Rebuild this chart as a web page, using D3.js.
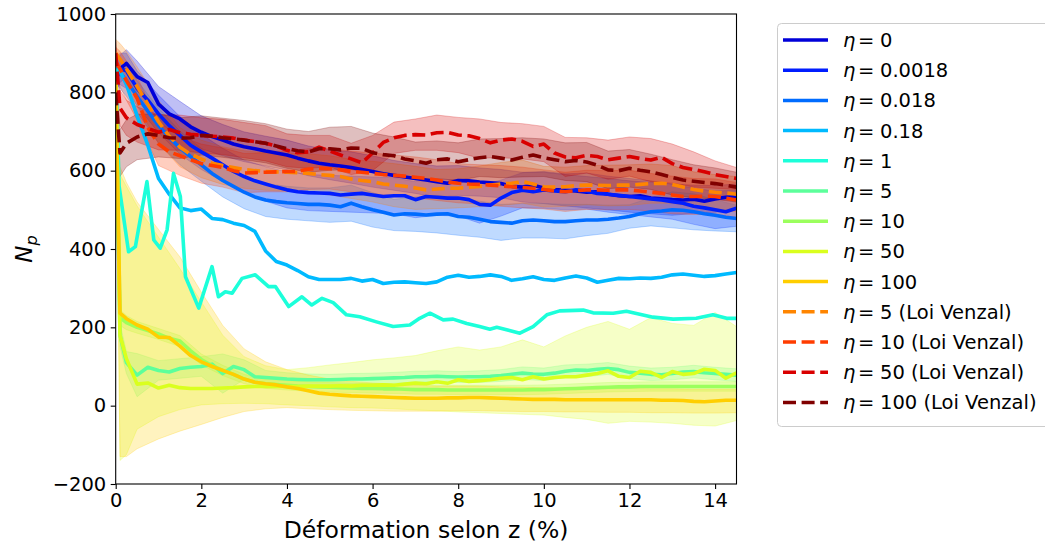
<!DOCTYPE html>
<html><head><meta charset="utf-8">
<script src="https://cdn.jsdelivr.net/npm/d3@7"></script>
<style>body{margin:0;background:#fff}svg{display:block;font-family:"DejaVu Sans",sans-serif}</style>
</head><body>
<script>
// strain grid (%)
const X = [0,0.1,0.25,0.5,0.75,1,1.25,1.5,1.75,2,2.25,2.5,2.75,3,3.25,3.5,3.75,4,4.25,4.5,4.75,5,5.25,5.5,5.75,6,6.25,6.5,6.75,7,7.25,7.5,7.75,8,8.25,8.5,8.75,9,9.25,9.5,9.75,10,10.25,10.5,10.75,11,11.25,11.5,11.75,12,12.25,12.5,12.75,13,13.25,13.5,13.75,14,14.25,14.5];
const X1 = [0,0.08,0.3,0.46,0.73,0.89,1.04,1.2,1.35,1.51,1.63,1.94,2.25,2.4,2.56,2.72,2.95,3.26,3.57,3.73,4.04,4.35,4.58,4.82,5.08,5.39,5.7,6.09,6.48,6.87,7.1,7.34,7.65,7.88,8.2,8.5,8.74,8.9,9.44,9.75,10.07,10.37,10.92,11.15,11.62,11.93,12.55,13.02,13.56,13.95,14.27,14.5];
const BX = [0,0.1,0.25,0.5,1,1.5,2,2.5,3,3.5,4,4.5,5,5.5,6,6.5,7,7.5,8,8.5,9,9.5,10,10.5,11,11.5,12,12.5,13,13.5,14,14.5];

const e0 = [830,860,874,840,825,770,745,732,712,698,687,678,668,661,656,650,645,640,632,625,619,615,612,608,603,598,592,588,584,580,576,572,568,575,574,571,569,567,560,558,563,556,552,550,548,545,546,540,536,534,536,530,528,526,525,527,522,528,532,534];
const e1 = [850,860,855,810,780,745,715,690,665,648,632,615,598,585,574,566,558,551,546,544,543,542,538,540,542,538,534,536,536,526,534,532,530,530,526,514,512,530,544,550,546,551,548,546,551,548,542,540,537,534,531,528,525,521,517,509,505,500,495,504];
const e2 = [860,850,830,790,752,715,685,658,636,615,593,575,560,545,533,525,521,518,516,514,514,512,508,517,508,500,494,487,490,489,487,489,490,483,481,476,470,468,466,472,474,472,470,470,472,474,474,476,479,483,490,495,497,500,499,495,490,486,481,478];
const e3 = [860,855,820,740,665,580,540,505,498,502,478,475,466,460,445,395,368,359,345,329,322,322,322,325,318,322,312,315,316,314,312,316,328,333,328,330,334,330,320,324,329,322,320,326,331,326,315,320,325,324,326,325,328,334,336,333,330,332,336,340];
const e4 = [860,560,393,406,572,423,402,449,593,534,329,249,355,278,291,287,325,334,304,304,253,278,257,274,263,232,227,214,202,206,223,236,219,221,210,202,195,200,185,202,232,242,244,237,236,241,226,221,223,232,223,223];
const e5 = [850,180,110,78,98,90,86,95,98,100,106,82,100,92,74,72,70,68,67,66,66,66,67,68,68,69,70,71,72,74,74,75,74,73,74,74,75,77,80,83,81,80,83,88,91,90,93,95,92,85,83,80,79,82,86,87,84,82,80,78];
const e6 = [850,225,212,200,192,183,172,165,140,118,102,90,80,68,60,56,54,52,50,49,48,47,46,45,44,44,43,43,42,41,41,41,40,40,40,40,40,40,40,40,41,41,42,43,44,45,46,47,48,48,49,49,49,49,49,49,49,49,49,49];
const e7 = [850,180,120,55,58,45,52,46,44,44,44,45,46,48,49,49,49,49,49,50,50,50,51,50,52,52,53,52,55,58,56,61,57,66,62,64,66,70,72,66,74,68,72,74,74,78,82,89,75,72,88,85,72,87,80,82,93,90,70,84];
const e8 = [850,236,222,206,195,175,174,152,128,112,100,90,80,68,60,56,53,48,44,38,32,29,27,25,24,23,22,21,20,19,19,19,20,20,21,21,20,19,18,17,16,16,16,15,15,15,15,15,15,15,15,15,14,14,13,11,10,12,14,14];
const v5 = [900,885,860,815,770,725,688,660,642,630,619,613,608,603,600,598,597,596,595,593,590,588,585,579,575,572,566,563,560,556,551,553,555,555,558,560,563,566,568,572,566,559,558,559,562,563,563,562,563,563,565,567,568,565,558,552,548,545,543,540];
const v10 = [880,860,830,785,710,668,648,638,628,618,613,608,600,594,595,596,597,598,598,604,606,605,602,598,596,593,590,588,586,583,580,576,571,568,566,565,563,561,559,557,555,552,548,546,549,551,551,550,551,551,548,545,542,538,534,534,535,534,530,525];
const v50 = [900,760,735,718,708,698,705,697,693,690,688,686,683,678,674,670,663,652,646,648,660,650,640,630,620,645,672,684,690,692,691,697,698,691,689,682,671,678,681,675,662,668,645,635,633,639,636,628,632,636,631,627,634,618,608,603,597,590,585,580];
const v100 = [800,645,670,686,694,690,684,683,684,690,688,684,681,678,674,670,663,656,651,648,656,656,653,658,657,646,641,638,630,625,619,628,630,623,628,633,636,632,627,634,640,633,628,623,626,622,614,602,600,606,601,597,590,583,576,573,570,567,563,558];

// spread of the shaded bands (on BX)
const sdE0 = [30,35,35,40,45,45,42,40,38,38,38,38,38,40,40,38,38,40,38,36,36,38,40,40,40,40,40,40,40,36,34,32];
const sdE1 = [35,40,45,45,48,48,45,42,42,44,46,46,46,46,46,46,46,46,46,48,46,45,47,46,46,46,46,46,45,46,48,46];
const sdE2 = [35,40,40,40,45,43,42,42,42,42,42,42,44,46,44,40,44,48,48,46,46,44,44,44,40,36,30,36,46,46,40,34];
const sdE5 = [15,30,28,55,25,25,25,50,25,18,16,15,14,14,14,14,14,14,14,15,15,16,16,16,16,15,16,16,16,16,16,16];
const sdE6 = [15,20,18,15,14,14,14,13,12,12,12,12,12,12,12,12,12,12,12,12,12,12,12,12,12,12,12,12,12,12,12,12];
const sdV5 = [35,40,45,50,55,50,48,48,48,48,48,50,50,50,52,55,55,50,50,52,55,55,52,50,50,52,52,50,48,45,45,45];
const sdV10 = [35,45,50,55,55,50,50,50,50,50,52,52,52,52,52,52,52,52,50,50,52,52,50,50,50,50,50,48,48,46,45,45];
const sdV50 = [30,45,45,45,45,45,45,45,45,45,42,42,40,40,45,40,40,45,45,50,45,45,45,50,45,50,50,55,50,45,35,28];
const sdV100 = [40,60,60,58,55,52,50,50,50,50,50,52,55,55,50,48,48,48,48,48,50,50,48,48,50,48,48,45,45,42,40,38];
const hiE7 = [880,590,560,510,430,350,265,180,125,102,92,97,104,110,117,122,128,140,150,142,150,168,150,178,200,215,195,225,210,205,238,202];
const loE7 = [820,-140,-125,-60,-28,-10,2,5,6,5,2,0,-3,-5,-6,-8,-11,-13,-16,-18,-20,-22,-24,-30,-35,-45,-40,-42,-45,-50,-52,-38];
const hiE8 = [880,610,570,520,450,380,290,205,145,112,92,78,68,62,58,55,52,50,50,50,48,47,46,45,45,44,44,43,43,42,42,42];
const loE8 = [820,-130,-130,-110,-85,-65,-48,-30,-15,-8,-5,-8,-10,-12,-13,-14,-14,-14,-13,-13,-14,-15,-15,-16,-16,-17,-17,-18,-18,-19,-19,-18];

const labels = ["0","0.0018","0.018","0.18","1","5","10","50","100","5 (Loi Venzal)","10 (Loi Venzal)","50 (Loi Venzal)","100 (Loi Venzal)"];
const colors = ["rgb(0,0,217)","rgb(0,29,255)","rgb(0,108,255)","rgb(0,186,255)","rgb(28,255,218)","rgb(92,255,155)","rgb(155,255,93)","rgb(218,255,30)","rgb(255,206,0)","rgb(255,133,0)","rgb(255,60,0)","rgb(217,0,0)","rgb(128,0,0)"];
const xTicks = [0,2,4,6,8,10,12,14];
const yTicks = [-200,0,200,400,600,800,1000];

const series = [
  {x:X, y:e0, sd:sdE0}, {x:X, y:e1, sd:sdE1}, {x:X, y:e2, sd:sdE2},
  {x:X, y:e3}, {x:X1, y:e4},
  {x:X, y:e5, sd:sdE5}, {x:X, y:e6, sd:sdE6},
  {x:X, y:e7, lo:loE7, hi:hiE7}, {x:X, y:e8, lo:loE8, hi:hiE8},
  {x:X, y:v5, sd:sdV5, dash:true}, {x:X, y:v10, sd:sdV10, dash:true},
  {x:X, y:v50, sd:sdV50, dash:true}, {x:X, y:v100, sd:sdV100, dash:true}
];

const W = 1045, H = 549;
const L = 115.7, R = 736.5, T = 14, B = 484;
const x = d3.scaleLinear().domain([0,14.5]).range([L,R]);
const y = d3.scaleLinear().domain([-200,1000]).range([B,T]);

const svg = d3.select("body").append("svg").attr("width",W).attr("height",H);
svg.append("defs").append("clipPath").attr("id","clip")
  .append("rect").attr("x",L).attr("y",T).attr("width",R-L).attr("height",B-T);
const plot = svg.append("g").attr("clip-path","url(#clip)");
const gBands = plot.append("g");
const gLines = plot.append("g");

const area = d3.area().x(d=>x(d[0])).y0(d=>y(d[1])).y1(d=>y(d[2]));
const line = d3.line().x(d=>x(d[0])).y(d=>y(d[1]));

series.forEach((s,i)=>{
  const c = colors[i];
  let band = null;
  if (s.sd) {
    band = BX.map((bx,k)=>{ const v = s.y[X.indexOf(bx)]; return [bx, v - s.sd[k], v + s.sd[k]]; });
  } else if (s.lo) {
    band = BX.map((bx,k)=>[bx, s.lo[k], s.hi[k]]);
  }
  if (band) {
    gBands.append("path").attr("d", area(band))
      .attr("fill", c).attr("fill-opacity", 0.25)
      .attr("stroke", c).attr("stroke-opacity", 0.25).attr("stroke-width", 1);
  }
  const pts = s.x.map((xv,k)=>[xv, s.y[k]]);
  gLines.append("path").attr("d", line(pts))
    .attr("fill","none").attr("stroke", c).attr("stroke-width", 3.6)
    .attr("stroke-linejoin","round")
    .attr("stroke-dasharray", s.dash ? "13,5.6" : null);
});

// frame
svg.append("rect").attr("x",L).attr("y",T).attr("width",R-L).attr("height",B-T)
  .attr("fill","none").attr("stroke","#000").attr("stroke-width",1.1);

const fmt = d => d < 0 ? "\u2212" + Math.abs(d) : String(d);
const ax = svg.append("g").attr("transform",`translate(0,${B})`)
  .call(d3.axisBottom(x).tickValues(xTicks).tickFormat(fmt).tickSize(5).tickPadding(4.5));
const ay = svg.append("g").attr("transform",`translate(${L},0)`)
  .call(d3.axisLeft(y).tickValues(yTicks).tickFormat(fmt).tickSize(5).tickPadding(4.5));
[ax,ay].forEach(g=>{
  g.select(".domain").remove();
  g.selectAll(".tick line").attr("stroke","#000").attr("stroke-width",1.1);
  g.selectAll("text").attr("font-family","DejaVu Sans").attr("font-size","19.5px").attr("fill","#000");
});

// axis labels
svg.append("text").attr("x",(L+R)/2).attr("y",538).attr("text-anchor","middle")
  .attr("font-size","23.5px").attr("fill","#000").text("Déformation selon z (%)");
const yl = svg.append("text").attr("transform","translate(32,249) rotate(-90)")
  .attr("text-anchor","middle").attr("font-size","23px").attr("fill","#000");
yl.append("tspan").attr("font-style","italic").text("N");
yl.append("tspan").attr("font-style","italic").attr("font-size","16px").attr("dy","5").text("p");

// legend
const lg = svg.append("g");
lg.append("rect").attr("x",777.5).attr("y",23.5).attr("width",300).attr("height",403).attr("rx",4)
  .attr("fill","#fff").attr("fill-opacity",0.8).attr("stroke","#ccc").attr("stroke-width",1);
labels.forEach((lab,i)=>{
  const yy = 40 + i*30.2;
  lg.append("line").attr("x1",783).attr("x2",828).attr("y1",yy).attr("y2",yy)
    .attr("stroke",colors[i]).attr("stroke-width",3.5)
    .attr("stroke-dasharray", series[i].dash ? "13,5.6" : null);
  const t = lg.append("text").attr("y",yy+7).attr("font-size","19.5px").attr("fill","#000");
  t.append("tspan").attr("x",843).attr("font-style","italic").text("η");
  t.append("tspan").attr("x",858).text("=");
  t.append("tspan").attr("x",880).text(lab);
});
</script>
</body></html>
